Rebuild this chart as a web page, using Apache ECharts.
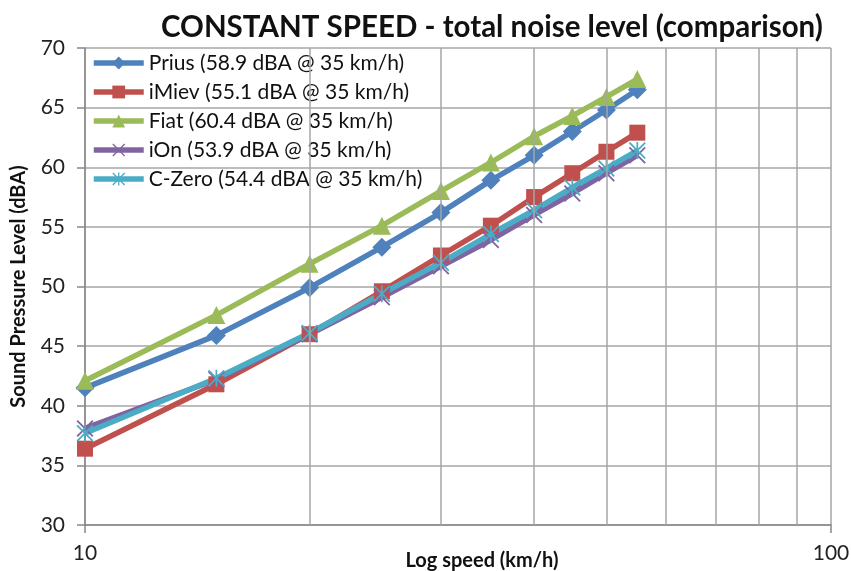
<!DOCTYPE html>
<html>
<head>
<meta charset="utf-8">
<script src="https://cdn.jsdelivr.net/npm/echarts@6/dist/echarts.min.js"></script>
<style>
  html, body { margin: 0; padding: 0; background: #fff; }
  #chart { width: 851px; height: 571px; }
</style>
</head>
<body>
<div id="chart"></div>
<script>
// speeds (km/h) and levels (dBA)
var speeds = [10, 15, 20, 25, 30, 35, 40, 45, 50, 55];
var prius = [41.5, 45.9, 49.9, 53.3, 56.2, 58.9, 61.0, 63.0, 64.8, 66.5];
var imiev = [36.4, 41.8, 46.0, 49.6, 52.6, 55.1, 57.5, 59.5, 61.3, 62.9];
var fiat  = [42.1, 47.6, 51.9, 55.1, 58.0, 60.4, 62.6, 64.3, 65.9, 67.4];
var ion   = [38.1, 42.2, 46.0, 49.1, 51.7, 53.9, 56.0, 57.8, 59.5, 61.0];
var czero = [37.7, 42.3, 46.1, 49.4, 52.0, 54.4, 56.4, 58.3, 59.9, 61.4];
var minorSpeeds = [20, 30, 40, 50, 60, 70, 80, 90];

var names = [
  'Prius (58.9 dBA @ 35 km/h)',
  'iMiev (55.1 dBA @ 35 km/h)',
  'Fiat (60.4 dBA @ 35 km/h)',
  'iOn (53.9 dBA @ 35 km/h)',
  'C-Zero (54.4 dBA @ 35 km/h)'
];
var colors = ['#4F81BD', '#C0504D', '#9BBB59', '#8064A2', '#4BACC6'];
var crossPath = 'path://M1.5,0L10,8.5L18.5,0L20,1.5L11.5,10L20,18.5L18.5,20L10,11.5L1.5,20L0,18.5L8.5,10L0,1.5Z';
var starPath = crossPath + 'M9,0L11,0L11,20L9,20Z';
var symbols = ['diamond', 'rect', 'triangle', crossPath, starPath];
var sizes = [19, 16, 18, 17, 17];
var values = [prius, imiev, fiat, ion, czero];

function pairs(arr) {
  return speeds.map(function (s, i) { return [s, arr[i]]; });
}

var font = 'Lato, "Open Sans", sans-serif';
var gridColor = '#a6a6a6';

var series = [{
  name: 'grid',
  type: 'line',
  data: [],
  z: 1,
  silent: true,
  markLine: {
    silent: true,
    symbol: ['none', 'none'],
    label: { show: false },
    animation: false,
    lineStyle: { color: gridColor, type: 'solid', width: 1.5 },
    data: minorSpeeds.map(function (v) { return { xAxis: v }; })
  }
}];
for (var i = 0; i < names.length; i++) {
  series.push({
    name: names[i],
    type: 'line',
    z: 3,
    data: pairs(values[i]),
    symbol: symbols[i],
    symbolSize: sizes[i],
    showAllSymbol: true,
    lineStyle: { width: 5.5, color: colors[i] },
    itemStyle: { color: colors[i] }
  });
}

var chart = echarts.init(document.getElementById('chart'));
chart.setOption({
  animation: false,
  color: colors,
  title: {
    text: 'CONSTANT SPEED - total noise level (comparison)',
    left: 156,
    top: 7,
    textStyle: { fontFamily: font, fontSize: 29.5, fontWeight: 'bold', color: '#111' }
  },
  legend: {
    data: names,
    orient: 'vertical',
    left: 91,
    top: 52,
    padding: 0,
    itemWidth: 50,
    itemHeight: 16,
    itemGap: 7,
    lineStyle: { width: 5.5 },
    textStyle: { fontFamily: font, fontSize: 21, color: '#111', lineHeight: 22 }
  },
  grid: { left: 85, right: 20, top: 48, bottom: 46, outerBoundsMode: 'none', containLabel: false },
  xAxis: {
    type: 'log',
    logBase: 10,
    min: 10,
    max: 100,
    name: 'Log speed (km/h)',
    nameLocation: 'middle',
    nameGap: 26,
    nameMoveOverlap: false,
    nameTextStyle: { fontFamily: font, fontSize: 20, fontWeight: 'bold', color: '#111', padding: [0, 0, 0, 48] },
    axisLine: { lineStyle: { color: '#888', width: 1.5 } },
    axisTick: { show: true, length: 8, lineStyle: { color: '#888', width: 1.5 } },
    axisLabel: { fontFamily: font, fontSize: 21, color: '#222', margin: 18 },
    splitLine: { show: true, lineStyle: { color: gridColor, width: 1.5 } }
  },
  yAxis: {
    type: 'value',
    min: 30,
    max: 70,
    interval: 5,
    name: 'Sound Pressure Level (dBA)',
    nameLocation: 'middle',
    nameGap: 56,
    nameMoveOverlap: false,
    nameTextStyle: { fontFamily: font, fontSize: 20, fontWeight: 'bold', color: '#111' },
    axisLine: { show: true, lineStyle: { color: '#888', width: 1.5 } },
    axisTick: { show: true, length: 8, lineStyle: { color: '#888', width: 1.5 } },
    axisLabel: { fontFamily: font, fontSize: 21, color: '#222', margin: 20 },
    splitLine: { show: true, lineStyle: { color: gridColor, width: 1.5 } }
  },
  series: series
});
</script>
</body>
</html>
